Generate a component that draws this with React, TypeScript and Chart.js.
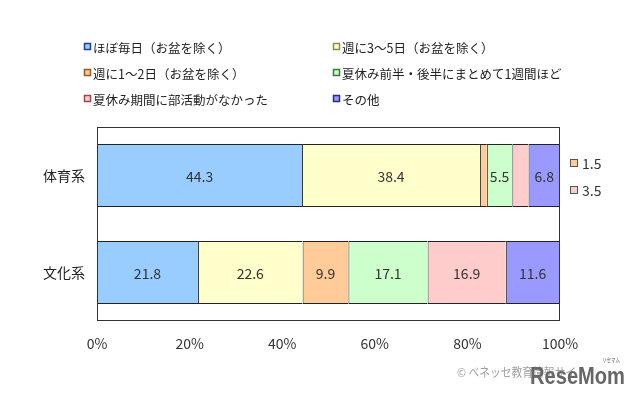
import React, { useEffect, useRef } from 'react';
import { Chart, registerables } from 'chart.js';

Chart.register(...registerables);

const FONT = "'Noto Sans CJK JP', 'Noto Sans', sans-serif";

const categories = ['体育系', '文化系'];
const seriesNames = [
  'ほぼ毎日（お盆を除く）',
  '週に3～5日（お盆を除く）',
  '週に1～2日（お盆を除く）',
  '夏休み前半・後半にまとめて1週間ほど',
  '夏休み期間に部活動がなかった',
  'その他',
];
const almostDaily = [44.3, 21.8];
const threeToFiveDays = [38.4, 22.6];
const oneToTwoDays = [1.5, 9.9];
const oneWeekBlock = [5.5, 17.1];
const noActivity = [3.5, 16.9];
const otherAnswers = [6.8, 11.6];
const xTicks = [0, 20, 40, 60, 80, 100];

const fills = ['#99CCFF', '#FFFFCC', '#FFCC99', '#CCFFCC', '#FFCCCC', '#9999FF'];
const legendEdges = ['#1F3F8F', '#8A8A40', '#9A5A20', '#3A7A3A', '#9A4A4A', '#2A2A8A'];

const overlayPlugin = {
  id: 'overlay',
  afterDatasetsDraw(chart: any) {
    const { ctx, chartArea } = chart;
    const { left, right, top, bottom } = chartArea;
    ctx.save();
    // plot box
    ctx.strokeStyle = '#333';
    ctx.lineWidth = 1;
    ctx.strokeRect(left + 0.5, top + 0.5, right - left - 1, bottom - top - 1);

    // value labels
    ctx.font = `14px ${FONT}`;
    ctx.fillStyle = '#333';
    ctx.textAlign = 'center';
    ctx.textBaseline = 'middle';
    const outside: Record<number, { v: number; ds: number }[]> = {};
    chart.data.datasets.forEach((ds: any, di: number) => {
      const meta = chart.getDatasetMeta(di);
      meta.data.forEach((el: any, idx: number) => {
        const v = ds.data[idx];
        if (v >= 5) {
          const c = el.getCenterPoint();
          ctx.fillText(v.toFixed(1), c.x, c.y + 1);
        } else {
          (outside[idx] = outside[idx] || []).push({ v, ds: di });
        }
      });
    });
    // small values listed at the right
    ctx.textAlign = 'left';
    Object.keys(outside).forEach((k) => {
      const idx = Number(k);
      const el = chart.getDatasetMeta(0).data[idx];
      const cy = el.y;
      outside[idx].forEach((o, n) => {
        const y = cy - 12.5 + n * 27;
        const sx = right + 10;
        ctx.fillStyle = fills[o.ds];
        ctx.fillRect(sx, y - 4, 8, 8);
        ctx.strokeStyle = '#555';
        ctx.strokeRect(sx + 0.5, y - 3.5, 7, 7);
        ctx.fillStyle = '#333';
        ctx.font = `14px ${FONT}`;
        ctx.fillText(o.v.toFixed(1), sx + 12, y + 1);
      });
    });
    ctx.restore();
  },
  afterDraw(chart: any) {
    const { ctx } = chart;
    ctx.save();
    // legend in two columns
    const colX = [84, 333];
    const rowY = [47, 73, 99];
    ctx.font = `12.5px ${FONT}`;
    ctx.textBaseline = 'middle';
    ctx.textAlign = 'left';
    chart.data.datasets.forEach((ds: any, i: number) => {
      const x = colX[i % 2];
      const y = rowY[Math.floor(i / 2)];
      ctx.fillStyle = fills[i];
      ctx.fillRect(x, y - 4, 7, 7);
      ctx.strokeStyle = legendEdges[i];
      ctx.lineWidth = 1.5;
      ctx.strokeRect(x + 0.5, y - 3.5, 6, 6);
      ctx.fillStyle = '#222';
      ctx.fillText(ds.label, x + 9, y + 1);
    });
    // watermark
    ctx.fillStyle = '#a0a0a0';
    ctx.font = `12px ${FONT}`;
    ctx.fillText('© ベネッセ教育情報サイト', 457, 372, 130);
    ctx.fillStyle = '#666';
    ctx.font = `bold 24px 'Liberation Sans Narrow', 'Liberation Sans', sans-serif`;
    ctx.fillText('ReseMom', 530, 377, 95);
    ctx.font = `6px ${FONT}`;
    ctx.fillText('リセマム', 602, 360, 18);
    ctx.restore();
  },
};

export default function App() {
  const ref = useRef<HTMLCanvasElement>(null);
  useEffect(() => {
    const values = [almostDaily, threeToFiveDays, oneToTwoDays, oneWeekBlock, noActivity, otherAnswers];
    const chart = new Chart(ref.current!, {
      type: 'bar',
      data: {
        labels: categories,
        datasets: seriesNames.map((name, i) => ({
          label: name,
          data: values[i],
          backgroundColor: fills[i],
          borderColor: '#222',
          borderWidth: { left: 1, top: 1, bottom: 1, right: 0 },
          borderSkipped: false,
          barPercentage: 0.65,
          categoryPercentage: 1,
        })),
      },
      options: {
        indexAxis: 'y',
        animation: false,
        responsive: false,
        layout: { padding: { top: 127, right: 80, bottom: 0, left: 0 } },
        plugins: { legend: { display: false }, tooltip: { enabled: false } },
        scales: {
          x: {
            stacked: true,
            min: 0,
            max: 100,
            afterBuildTicks: (s: any) => {
              s.ticks = xTicks.map((v) => ({ value: v }));
            },
            ticks: {
              callback: (v: any) => v + '%',
              font: { family: FONT, size: 14 },
              color: '#333',
              padding: 14,
              maxRotation: 0,
            },
            grid: { display: false, drawTicks: false },
            border: { display: false },
            afterFit: (s: any) => {
              s.height = 75;
            },
          },
          y: {
            stacked: true,
            ticks: { font: { family: FONT, size: 14 }, color: '#222', padding: 12 },
            grid: { display: false, drawTicks: false },
            border: { display: false },
            afterFit: (s: any) => {
              s.width = 97;
            },
          },
        },
      } as any,
      plugins: [overlayPlugin],
    });
    return () => chart.destroy();
  }, []);
  return (
    <div style={{ position: 'absolute', left: 0, top: 0, width: 640, height: 396, background: '#fff' }}>
      <canvas ref={ref} width={640} height={396} />
    </div>
  );
}
